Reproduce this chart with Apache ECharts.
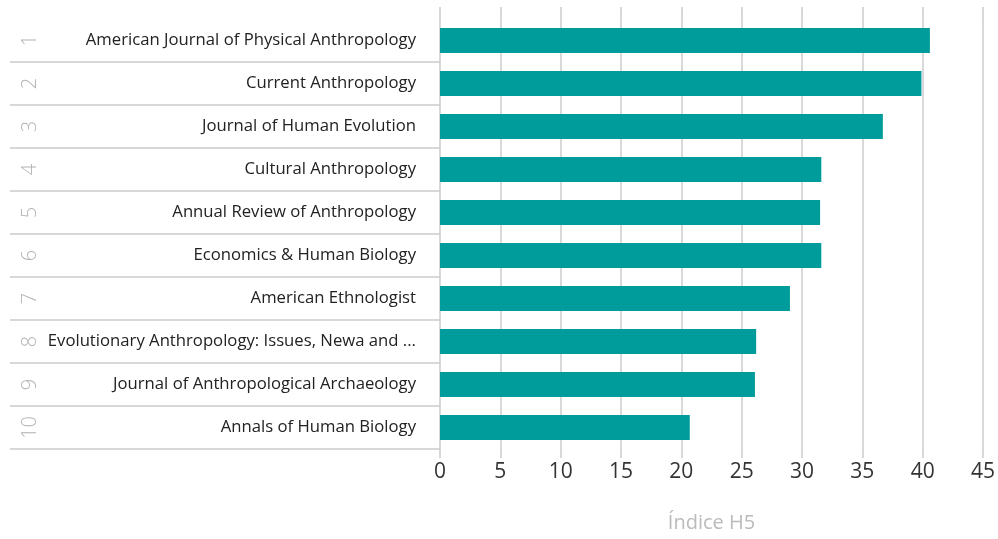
<!DOCTYPE html>
<html lang="es">
<head>
    <meta charset="UTF-8">
    <title>Índice H5</title>
    <script src="https://cdn.jsdelivr.net/npm/echarts@6/dist/echarts.min.js"></script>
    <style>
        html, body { margin: 0; padding: 0; background: #fff; }
        #chart { width: 998px; height: 539px; }
    </style>
</head>
<body>
    <div id="chart"></div>
    <script>
        // datos
        var journals = [
            'American Journal of Physical Anthropology',
            'Current Anthropology',
            'Journal of Human Evolution',
            'Cultural Anthropology',
            'Annual Review of Anthropology',
            'Economics & Human Biology',
            'American Ethnologist',
            'Evolutionary Anthropology: Issues, Newa and ...',
            'Journal of Anthropological Archaeology',
            'Annals of Human Biology'
        ];
        var ranks = ['1', '2', '3', '4', '5', '6', '7', '8', '9', '10'];
        var h5 = [40.6, 39.9, 36.7, 31.6, 31.5, 31.6, 29.0, 26.2, 26.1, 20.7];
        var axisMax = 45;
        var axisStep = 5;

        var font = '"Open Sans", sans-serif';
        var gridColor = '#cccccc';

        var chart = echarts.init(document.getElementById('chart'));
        var valueAxisBase = {
            type: 'value',
            min: 0,
            max: axisMax,
            interval: axisStep,
            axisLine: { show: false }
        };
        chart.setOption({
            animation: false,
            grid: { left: 440, right: 13, top: 19, bottom: 90 },
            xAxis: [
                Object.assign({}, valueAxisBase, {
                    position: 'bottom',
                    name: 'Índice H5',
                    nameLocation: 'middle',
                    nameGap: 64,
                    nameTextStyle: { color: '#bbbbbb', fontSize: 20, fontFamily: font },
                    axisTick: { show: true, length: 9, lineStyle: { color: gridColor, width: 1.5 } },
                    axisLabel: { color: '#333', fontSize: 21, fontFamily: font, margin: 13 },
                    splitLine: { show: true, lineStyle: { color: gridColor, width: 1.5 } }
                }),
                Object.assign({}, valueAxisBase, {
                    position: 'top',
                    axisTick: { show: true, length: 12, lineStyle: { color: gridColor, width: 1.5 } },
                    axisLabel: { show: false },
                    splitLine: { show: false }
                })
            ],
            yAxis: [
                {
                    type: 'category',
                    data: journals,
                    inverse: true,
                    axisLine: { show: false },
                    axisTick: {
                        show: true,
                        length: 430,
                        interval: function (index) { return index > 0; },
                        lineStyle: { color: gridColor, width: 1.5 }
                    },
                    axisLabel: { color: '#222', fontSize: 16.7, fontFamily: font, margin: 24 }
                },
                {
                    type: 'category',
                    data: ranks,
                    inverse: true,
                    position: 'left',
                    axisLine: { show: false },
                    axisTick: { show: false },
                    axisLabel: { color: '#b4b4b4', fontSize: 20, fontWeight: 300, fontFamily: font, rotate: 90, margin: 400 }
                }
            ],
            series: [{
                type: 'bar',
                data: h5,
                barWidth: 25,
                itemStyle: { color: '#009b9b' }
            }]
        });
    </script>
</body>
</html>
